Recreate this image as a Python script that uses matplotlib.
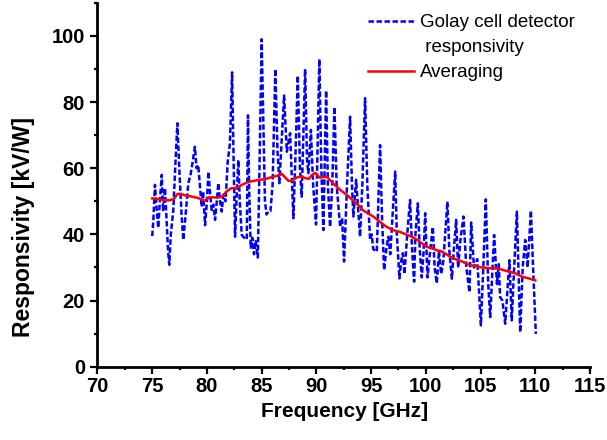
import matplotlib
matplotlib.use("Agg")
import matplotlib.pyplot as plt
from matplotlib.lines import Line2D
from matplotlib.ticker import MultipleLocator

plt.rcParams['font.family'] = ['Liberation Sans', 'DejaVu Sans']

# Golay cell responsivity (local peaks/troughs)
golay_freq = [75.0, 75.1, 75.25, 75.4, 75.55, 75.7, 75.87, 76.0, 76.17, 76.3, 76.45, 76.56, 76.7, 76.93,
              77.1, 77.3, 77.5, 77.7, 77.84, 78.0, 78.3, 78.5, 78.7, 78.9, 79.05, 79.2, 79.35, 79.52,
              79.65, 79.83, 80.0, 80.13, 80.3, 80.44, 80.6, 80.74, 80.9, 81.04, 81.2, 81.35, 81.5,
              81.7, 81.9, 82.1, 82.3, 82.45, 82.57, 82.72, 82.87, 83.0, 83.18, 83.4, 83.64, 83.75,
              83.85, 84.0, 84.15, 84.3, 84.45, 84.65, 84.8, 85.0, 85.15, 85.3, 85.45, 85.6, 85.8,
              86.0, 86.25, 86.45, 86.62, 86.85, 87.05, 87.3, 87.6, 87.9, 88.1, 88.3, 88.5, 88.66,
              88.97, 89.15, 89.27, 89.5, 89.7, 89.97, 90.27, 90.45, 90.64, 90.89, 91.05, 91.25,
              91.45, 91.65, 91.85, 92.17, 92.35, 92.53, 92.8, 93.08, 93.25, 93.38, 93.63, 93.99,
              94.2, 94.45, 94.65, 94.91, 95.05, 95.2, 95.52, 95.82, 96.0, 96.19, 96.4, 96.58, 96.75,
              97.2, 97.35, 97.59, 97.75, 97.9, 98.05, 98.3, 98.56, 98.75, 98.93, 99.05, 99.27,
              99.45, 99.63, 99.8, 99.94, 100.15, 100.33, 100.64, 100.8, 101.0, 101.2, 101.4,
              101.6, 101.97, 102.15, 102.38, 102.55, 102.77, 102.95, 103.15, 103.44, 103.7,
              103.99, 104.14, 104.4, 104.7, 105.03, 105.25, 105.48, 105.7, 105.88, 106.24,
              106.5, 106.66, 106.79, 107.0, 107.25, 107.64, 107.85, 108.0, 108.32, 108.62,
              108.85, 109.08, 109.3, 109.6, 109.8, 110.05]
golay_resp = [39.5, 44, 55, 48, 42, 50, 58, 47, 54, 45, 35, 30.8, 40, 47.4,
              60, 73.6, 58, 45, 38.3, 44, 55.5, 58, 62, 66.5, 60, 61, 55, 48.4,
              53, 42.8, 50, 59, 52, 47.4, 49, 44.4, 50, 55.5, 50, 46.9, 52,
              50, 62, 67.5, 89, 60, 39.3, 52, 62.5, 50, 39.8, 39, 38.5, 76,
              55, 36, 39, 34, 38, 33, 60, 99, 75, 50, 46, 46.9, 47,
              55, 90, 65, 55.5, 70, 82, 65, 70.6, 44.9, 65, 88, 60, 51.4,
              90, 62, 58.5, 71.6, 55, 43, 93, 60, 41.3, 83.5, 55, 42.3,
              55, 78.5, 55, 42.3, 45, 31.8, 55, 75.6, 55, 45.4, 56.5, 39.3,
              55, 81.2, 55, 38.3, 40, 35.5, 34.8, 67, 45, 29.2, 36, 39.3, 34,
              59, 40, 26.7, 32, 34.3, 28, 40, 50.4, 35, 25.7, 40, 49.4,
              35, 27, 35, 46.4, 27, 33, 42.3, 30, 25.2, 35, 28,
              32, 49.9, 35, 26.6, 35, 44.4, 30, 38, 45.4, 30,
              22.5, 43.6, 30, 32.5, 12.5, 30, 50.6, 25, 15, 39.8,
              25, 31, 21, 20, 13, 32.2, 14, 25, 46.9, 10.4,
              30, 38.3, 30, 47.2, 30, 9.9]

# averaged curve
avg_freq = [75.0, 75.5, 76.0, 76.6, 77.0, 77.3, 77.6, 78.0, 78.5, 78.8, 79.2, 79.8, 80.2, 80.6,
            81.0, 81.4, 81.8, 82.2, 82.8, 83.2, 83.8, 84.3, 84.8, 85.4, 86.0, 86.5, 86.85, 87.1,
            87.45, 87.8, 88.2, 88.6, 89.0, 89.3, 89.6, 89.9, 90.3, 90.6, 90.95, 91.3, 91.7, 92.2,
            92.8, 93.3, 93.8, 94.2, 94.7, 95.2, 95.8, 96.4, 97.0, 97.6, 98.2, 98.7, 99.2, 99.6,
            100.1, 100.5, 101.0, 101.5, 102.2, 102.8, 103.3, 104.0, 104.6, 105.1, 105.8, 106.6,
            107.2, 107.7, 108.2, 108.8, 109.3, 110.0]
avg_resp = [50.9, 50.7, 50.4, 50.3, 50.8, 52.2, 52.3, 51.8, 51.5, 51.3, 51.0, 50.2, 51.2, 51.2,
            51.1, 51.5, 53.0, 53.9, 54.2, 55.0, 55.9, 56.2, 56.5, 56.8, 57.4, 57.8, 58.3, 57.4,
            56.2, 56.3, 57.2, 57.5, 57.0, 56.8, 58.0, 58.6, 57.2, 57.3, 57.4, 56.2, 54.9, 53.4,
            51.9, 50.4, 48.9, 47.4, 46.4, 45.4, 43.8, 42.3, 41.3, 40.8, 40.0, 39.3, 38.4, 37.4,
            36.2, 35.9, 35.2, 34.8, 33.3, 32.4, 31.8, 30.8, 30.4, 30.0, 29.8, 29.7,
            29.1, 28.7, 28.2, 27.2, 26.8, 26.1]

fig = plt.figure(figsize=(6.07, 4.40), dpi=100)
ax = fig.add_axes([0.1606, 0.1666, 0.8114, 0.8268])

blue, = ax.plot(golay_freq, golay_resp, color='#0000FF', lw=1.8, linestyle=(0, (2.2, 1.0)))
red, = ax.plot(avg_freq, avg_resp, color='#FF0000', lw=1.8)

ax.set_xlim(70, 115)
ax.set_ylim(0, 110)
ax.xaxis.set_major_locator(MultipleLocator(5))
ax.xaxis.set_minor_locator(MultipleLocator(2.5))
ax.yaxis.set_major_locator(MultipleLocator(20))
ax.yaxis.set_minor_locator(MultipleLocator(10))

for side in ['top', 'right']:
    ax.spines[side].set_visible(False)
for side in ['left', 'bottom']:
    ax.spines[side].set_linewidth(2.0)

ax.tick_params(which='major', direction='out', length=5, width=1.6)
ax.tick_params(which='minor', direction='out', length=2.5, width=1.6)
ax.tick_params(axis='x', which='major', pad=2.5)
ax.tick_params(axis='y', which='major', pad=4)
for lab in ax.get_xticklabels() + ax.get_yticklabels():
    lab.set_fontsize(14.5)
    lab.set_fontweight('bold')

ax.set_xlabel('Frequency [GHz]', fontsize=15, fontweight='bold', va='center')
ax.set_ylabel('Responsivity [kV/W]', fontsize=16.5, fontweight='bold', va='center')
ax.xaxis.set_label_coords(0.502, -0.124)
ax.yaxis.set_label_coords(-0.151, 0.385)

blank = Line2D([], [], color='none')
fig.legend([blue, blank, red], ['Golay cell detector', ' responsivity', 'Averaging'],
           loc='upper left', bbox_to_anchor=(368 / 607, 1 - 14 / 440),
           frameon=False, fontsize=13.5, handlelength=2.45, handletextpad=0.3,
           labelspacing=0.42, borderpad=0, borderaxespad=0)

fig.savefig('out.png', dpi=100)
